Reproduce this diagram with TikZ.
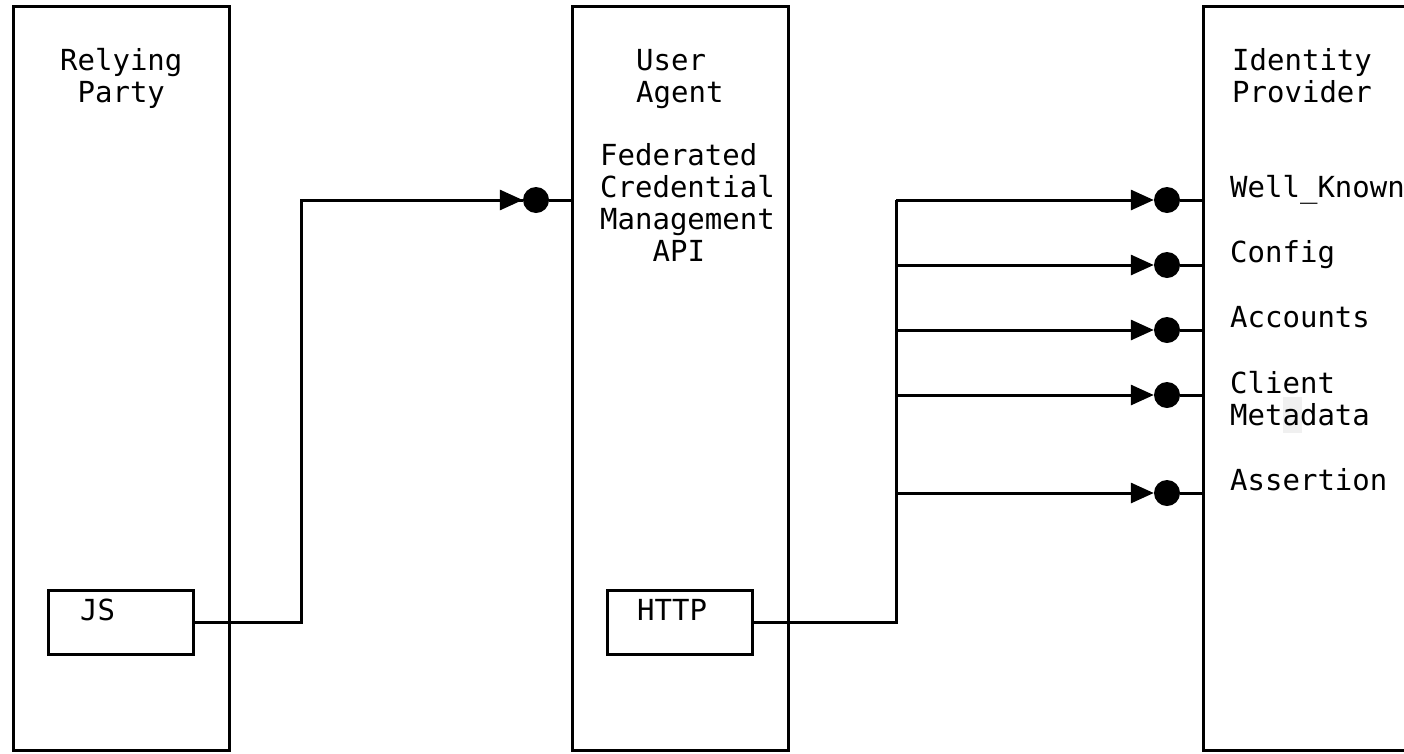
\documentclass[tikz,border=0pt]{standalone}
\usepackage{fontspec}
\newfontfamily\diagfont{DejaVu Sans Mono}
\usetikzlibrary{arrows.meta}
\newcommand{\lines}[2][l]{\begin{tabular}[t]{@{}#1@{}}#2\end{tabular}}
\begin{document}
\begin{tikzpicture}[x=1pt,y=-1pt,
  lane/.style={draw, line width=3pt, rectangle, inner sep=0pt, minimum width=216pt, minimum height=744pt},
  part/.style={draw, line width=3pt, rectangle, inner sep=0pt, minimum width=145pt, minimum height=64pt},
  lbl/.style={anchor=base west, inner sep=0pt, font=\diagfont\fontsize{29}{32}\selectfont},
  port/.style={circle, fill=black, minimum size=26pt, inner sep=0pt},
  wire/.style={line width=3pt},
  call/.style={wire, -{Triangle[length=23pt,width=20pt]}},
]
\useasboundingbox (0,0) rectangle (1404,753);
\clip (0,0) rectangle (1404,753);

% the three parties
\node[lane] (rp) at (121,378) {};
\node[lane] (ua) at (680,378) {};
\coordinate (idp) at (1203,378);
\draw[wire] (1430,6) -- (1203,6) -- (1203,750) -- (1430,750);

% titles
\node[lbl] (rptitle) at (60,70) {\lines[c]{Relying\\Party}};
\node[lbl] (uatitle) at (636,70) {\lines{User\\Agent}};
\node[lbl] (fcmtitle) at (600,165) {\lines{Federated\\Credential\\Management\\\phantom{XXX}API}};
\node[lbl] (idptitle) at (1232,70) {\lines{Identity\\Provider}};

% inner components
\node[part] (js) at (120.5,622) {};
\node[part] (http) at (679.5,622) {};
\node[lbl] (jslbl) at (80,620) {JS};
\node[lbl] (httplbl) at (637,620) {HTTP};

% endpoint ports
\node[port] (fcm) at (536,200) {};
\node[port] (wk) at (1167,200) {};
\node[port] (cfg) at (1167,265) {};
\node[port] (acc) at (1167,330) {};
\node[port] (meta) at (1167,395) {};
\node[port] (asr) at (1167,493) {};

% endpoint names
\fill[gray!12] (1283,397) rectangle (1302,433);
\node[lbl] (wklbl) at (1230,197) {Well\_Known};
\node[lbl] (cfglbl) at (1230,262) {Config};
\node[lbl] (acclbl) at (1230,327) {Accounts};
\node[lbl] (metalbl) at (1230,393) {\lines{Client\\Metadata}};
\node[lbl] (asrlbl) at (1230,490) {Assertion};

% JS calls the FedCM API
\coordinate (jsbend) at (301,622);
\draw[wire] (js.east) -- (jsbend) |- (fcm.west);
\draw[call] (jsbend |- fcm) -- (fcm.west);
\draw[wire] (fcm) -- (ua.west |- fcm);

% HTTP fetches the IdP endpoints
\coordinate (bus) at (896,622);
\coordinate (bustop) at (896,200);
\draw[wire] (http.east) -- (bus) -- (bustop);
\foreach \p in {wk,cfg,acc,meta,asr}{
  \draw[call] (bus |- \p) -- (\p.west);
  \draw[wire] (\p) -- (idp |- \p);
}
\end{tikzpicture}
\end{document}
